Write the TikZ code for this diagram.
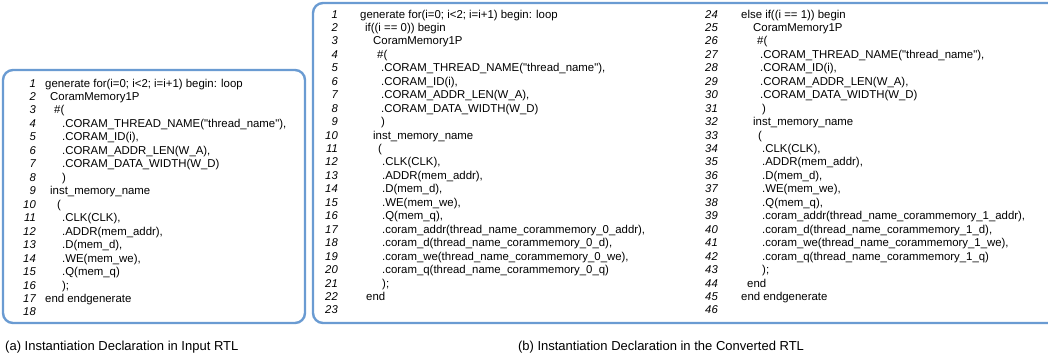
\documentclass[tikz,border=0pt]{standalone}
\usepackage{fontspec}
\setmainfont{Liberation Sans}
\newfontfamily\codefont{Liberation Sans}[Ligatures=TeXOff]
\definecolor{boxblue}{RGB}{106,155,210}
\tikzset{
  codebox/.style={draw=boxblue, line width=2.4pt, rounded corners=10pt},
  numst/.style={anchor=base east, inner sep=0pt, font=\fontsize{11.3}{13}\selectfont\itshape},
  codest/.style={anchor=base west, inner sep=0pt, font=\fontsize{11.4}{13}\selectfont\codefont},
  capst/.style={anchor=base, inner sep=0pt, font=\fontsize{13}{15}\selectfont},
}
% Box (a) line: #1 number, #2 x of text, #3 text
\newcommand\LA[3]{%
  \node[numst] (an#1) at ({36},{-(87+(#1-1)*13.47)}) {#1};
  \node[codest] (a#1) at ({#2},{-(87+(#1-1)*13.47)}) {#3};}
\newcommand\NA[1]{%
  \node[numst] (an#1) at ({36},{-(87+(#1-1)*13.47)}) {#1};}
% Box (b) column 1
\newcommand\LB[3]{%
  \node[numst] (bn#1) at ({338},{-(18+(#1-1)*13.45)}) {#1};
  \node[codest] (b#1) at ({#2},{-(18+(#1-1)*13.45)}) {#3};}
\newcommand\NB[1]{%
  \node[numst] (bn#1) at ({338},{-(18+(#1-1)*13.45)}) {#1};}
% Box (b) column 2
\newcommand\LC[3]{%
  \node[numst] (cn#1) at ({718},{-(18+(#1-24)*13.45)}) {#1};
  \node[codest] (c#1) at ({#2},{-(18+(#1-24)*13.45)}) {#3};}
\newcommand\NC[1]{%
  \node[numst] (cn#1) at ({718},{-(18+(#1-24)*13.45)}) {#1};}
\begin{document}
\begin{tikzpicture}[x=1pt,y=1pt]
\useasboundingbox (0,0) rectangle (1048,-357);
\clip (0,0) rectangle (1048,-357);
% boxes
\draw[codebox] (3,-70) rectangle (305,-323);
\draw[codebox] (313,-3) rectangle (1070,-323);
% (a)
\LA{1}{45}{generate for(i=0; i<2; i=i+1) begin: loop}
\LA{2}{50}{CoramMemory1P}
\LA{3}{54}{\#(}
\LA{4}{62}{.CORAM\_THREAD\_NAME("thread\_name"),}
\LA{5}{62}{.CORAM\_ID(i),}
\LA{6}{62}{.CORAM\_ADDR\_LEN(W\_A),}
\LA{7}{62}{.CORAM\_DATA\_WIDTH(W\_D)}
\LA{8}{62}{)}
\LA{9}{50}{inst\_memory\_name}
\LA{10}{57}{(}
\LA{11}{62}{.CLK(CLK),}
\LA{12}{62}{.ADDR(mem\_addr),}
\LA{13}{62}{.D(mem\_d),}
\LA{14}{62}{.WE(mem\_we),}
\LA{15}{62}{.Q(mem\_q)}
\LA{16}{62}{);}
\LA{17}{45}{end endgenerate}
\NA{18}
% (b) column 1
\LB{1}{360}{generate for(i=0; i<2; i=i+1) begin: loop}
\LB{2}{365}{if((i == 0)) begin}
\LB{3}{373}{CoramMemory1P}
\LB{4}{377}{\#(}
\LB{5}{381}{.CORAM\_THREAD\_NAME("thread\_name"),}
\LB{6}{381}{.CORAM\_ID(i),}
\LB{7}{381}{.CORAM\_ADDR\_LEN(W\_A),}
\LB{8}{381}{.CORAM\_DATA\_WIDTH(W\_D)}
\LB{9}{381}{)}
\LB{10}{373}{inst\_memory\_name}
\LB{11}{378}{(}
\LB{12}{382}{.CLK(CLK),}
\LB{13}{382}{.ADDR(mem\_addr),}
\LB{14}{382}{.D(mem\_d),}
\LB{15}{382}{.WE(mem\_we),}
\LB{16}{382}{.Q(mem\_q),}
\LB{17}{382}{.coram\_addr(thread\_name\_corammemory\_0\_addr),}
\LB{18}{382}{.coram\_d(thread\_name\_corammemory\_0\_d),}
\LB{19}{382}{.coram\_we(thread\_name\_corammemory\_0\_we),}
\LB{20}{382}{.coram\_q(thread\_name\_corammemory\_0\_q)}
\LB{21}{382}{);}
\LB{22}{366}{end}
\NB{23}
% (b) column 2
\LC{24}{741}{else if((i == 1)) begin}
\LC{25}{753}{CoramMemory1P}
\LC{26}{757}{\#(}
\LC{27}{760}{.CORAM\_THREAD\_NAME("thread\_name"),}
\LC{28}{760}{.CORAM\_ID(i),}
\LC{29}{760}{.CORAM\_ADDR\_LEN(W\_A),}
\LC{30}{760}{.CORAM\_DATA\_WIDTH(W\_D)}
\LC{31}{762}{)}
\LC{32}{753}{inst\_memory\_name}
\LC{33}{758}{(}
\LC{34}{762}{.CLK(CLK),}
\LC{35}{762}{.ADDR(mem\_addr),}
\LC{36}{762}{.D(mem\_d),}
\LC{37}{762}{.WE(mem\_we),}
\LC{38}{762}{.Q(mem\_q),}
\LC{39}{762}{.coram\_addr(thread\_name\_corammemory\_1\_addr),}
\LC{40}{762}{.coram\_d(thread\_name\_corammemory\_1\_d),}
\LC{41}{762}{.coram\_we(thread\_name\_corammemory\_1\_we),}
\LC{42}{762}{.coram\_q(thread\_name\_corammemory\_1\_q)}
\LC{43}{762}{);}
\LC{44}{747}{end}
\LC{45}{741}{end endgenerate}
\NC{46}
% captions
\node[capst, anchor=base west] (capa) at (5,-350) {(a) Instantiation Declaration in Input RTL};
\node[capst] (capb) at (661,-350) {(b) Instantiation Declaration in the Converted RTL};
\end{tikzpicture}
\end{document}
